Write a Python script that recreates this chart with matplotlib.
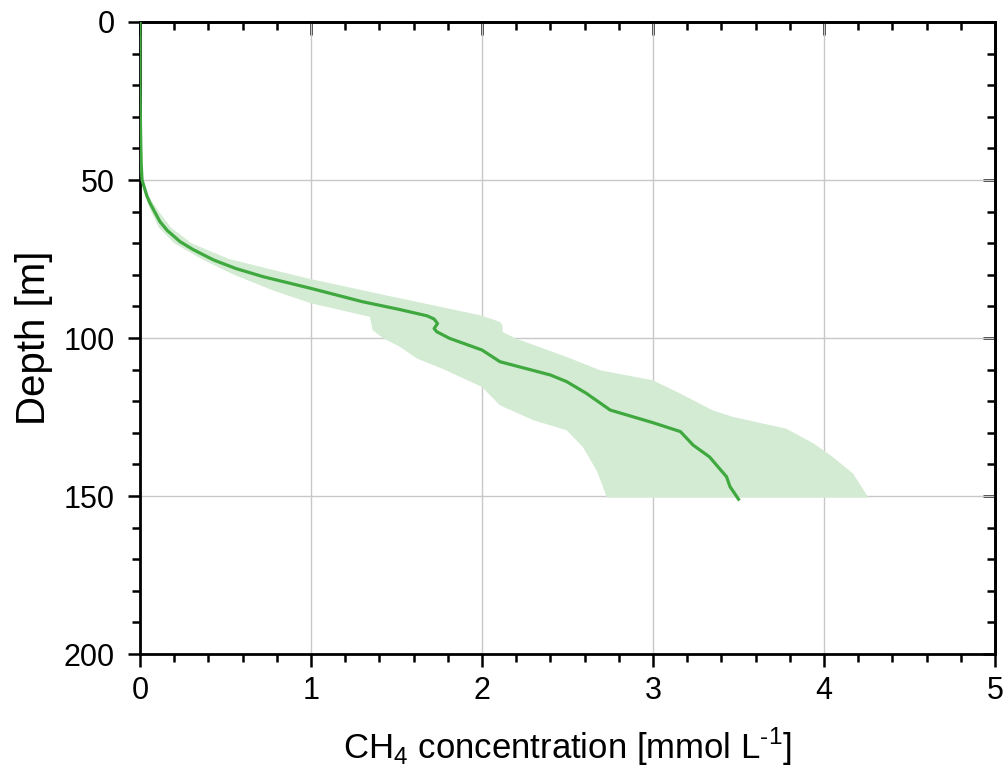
import numpy as np
import matplotlib
matplotlib.use("Agg")
import matplotlib.pyplot as plt
from matplotlib.ticker import MultipleLocator

plt.rcParams['font.family'] = ['Liberation Sans', 'DejaVu Sans']
plt.rcParams['mathtext.fontset'] = 'custom'
plt.rcParams['mathtext.rm'] = 'Liberation Sans'

# mean CH4 profile (depth in m, concentration in mmol/L)
mean_depth = [0, 10, 20, 30, 40, 45, 50, 55, 57.3, 60, 63.2, 66, 69.5, 72, 75.3, 78,
              80.6, 84.3, 88.5, 91, 93, 94, 95.4, 97, 98, 100.1, 103.8, 107.5, 111.7,
              113.8, 117.5, 122.8, 126.8, 129.6, 133.9, 137.6, 143.9, 147, 151]
mean_conc = [0.0, 0.0, 0.0, 0.002, 0.005, 0.007, 0.012, 0.04, 0.058, 0.085, 0.117, 0.16,
             0.234, 0.31, 0.43, 0.56, 0.72, 1.0, 1.30, 1.52, 1.68, 1.72, 1.74, 1.72,
             1.735, 1.81, 2.0, 2.105, 2.40, 2.495, 2.61, 2.75, 3.0, 3.16, 3.235, 3.33,
             3.43, 3.45, 3.50]

# envelope (max / min)
upper_depth = [0, 40, 50, 55, 60, 65, 70, 75, 81, 86.4, 92.8, 94.9, 96, 98.1, 100.2,
               106, 110.2, 113.4, 117.6, 122.9, 125, 128.7, 133.4, 137.6, 142.9, 148, 150.5]
upper_conc = [0, 0.005, 0.015, 0.05, 0.11, 0.18, 0.30, 0.52, 0.97, 1.43, 1.99, 2.105,
              2.12, 2.12, 2.20, 2.495, 2.69, 3.0, 3.16, 3.35, 3.47, 3.78, 3.94, 4.05,
              4.17, 4.23, 4.26]
lower_depth = [0, 40, 50, 55, 60, 65, 70, 75, 80, 85, 89, 93.3, 97.5, 100, 102.8, 106.5,
               110, 115.5, 121.3, 126, 129.2, 134.5, 141.9, 146, 150.5]
lower_conc = [0, 0.005, 0.01, 0.03, 0.065, 0.11, 0.2, 0.36, 0.55, 0.78, 1.0, 1.345, 1.36,
              1.42, 1.52, 1.62, 1.78, 2.0, 2.105, 2.30, 2.495, 2.59, 2.67, 2.70, 2.73]

fig = plt.figure(figsize=(10.08, 7.8), dpi=100)
ax = fig.add_axes([0.1389, 0.1615, 0.8482, 0.8103])

band_x = np.concatenate([upper_conc, lower_conc[::-1]])
band_y = np.concatenate([upper_depth, lower_depth[::-1]])
ax.fill(band_x, band_y, facecolor='#d3ebd3', edgecolor='none', zorder=2)
ax.plot(mean_conc, mean_depth, color='#3fa83f', lw=2.3, zorder=3)

ax.set_xlim(0, 5)
ax.set_ylim(200, 0)
ax.xaxis.set_major_locator(MultipleLocator(1))
ax.xaxis.set_minor_locator(MultipleLocator(0.2))
ax.yaxis.set_major_locator(MultipleLocator(50))
ax.yaxis.set_minor_locator(MultipleLocator(10))
ax.grid(True, which='major', color='#c8c8c8', lw=1.0, zorder=0)
ax.set_axisbelow(True)

for s in ax.spines.values():
    s.set_linewidth(2.0)
ax.tick_params(which='major', direction='out', length=9, width=1.8, labelsize=22, pad=7)
ax.tick_params(axis='y', which='major', pad=9)
ax.tick_params(which='minor', direction='out', length=5.5, width=1.8)

# mirrored ticks pointing inwards on top/right
top = ax.secondary_xaxis('top')
top.xaxis.set_major_locator(MultipleLocator(1))
top.xaxis.set_minor_locator(MultipleLocator(0.2))
top.tick_params(which='major', direction='in', length=9, width=1.8, labeltop=False)
top.tick_params(which='minor', direction='in', length=5.5, width=1.8)
top.spines['top'].set_linewidth(2.0)
right = ax.secondary_yaxis('right')
right.yaxis.set_major_locator(MultipleLocator(50))
right.yaxis.set_minor_locator(MultipleLocator(10))
right.tick_params(which='major', direction='in', length=9, width=1.8, labelright=False)
right.tick_params(which='minor', direction='in', length=5.5, width=1.8)
right.spines['right'].set_linewidth(2.0)

ax.set_xlabel(r'CH$_4$ concentration [mmol L$^{\text{-}1}$]', fontsize=25, labelpad=14)
ax.set_ylabel('Depth [m]', fontsize=29, labelpad=8)

fig.savefig('out.png', dpi=100)
